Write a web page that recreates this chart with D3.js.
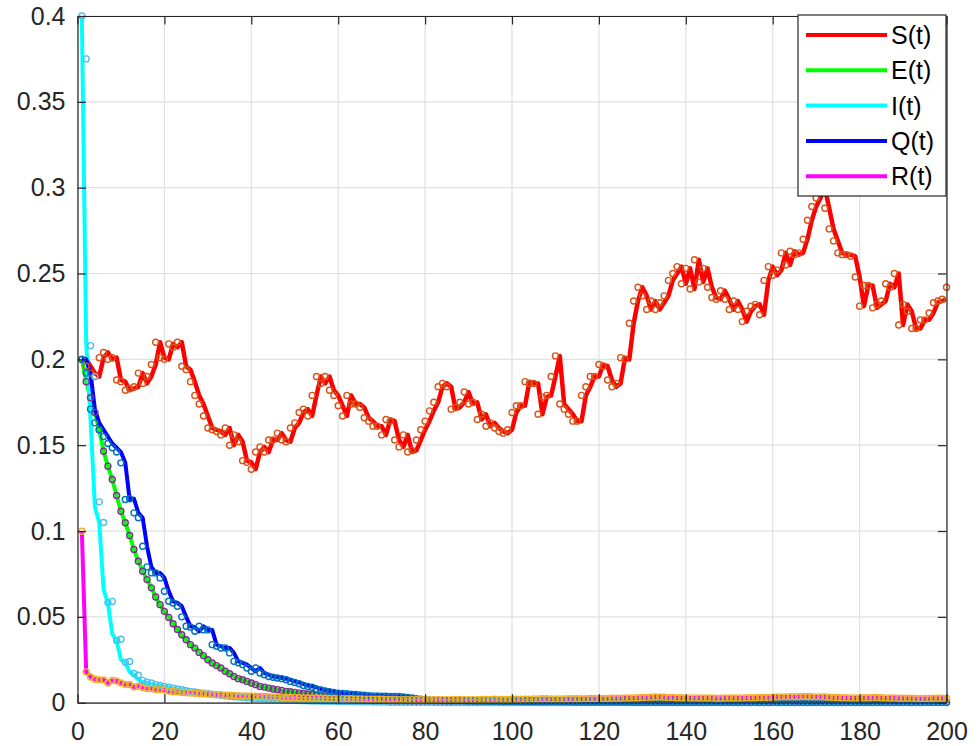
<!DOCTYPE html>
<html>
<head>
<meta charset="utf-8">
<script src="https://cdn.jsdelivr.net/npm/d3@7"></script>
<style>
  body { margin: 0; background: #fff; }
  svg { display: block; font-family: "Liberation Sans", Arial, Helvetica, sans-serif; }
</style>
</head>
<body>
<div id="chart"></div>
<script>
// ---- data (t = 1..200) ----
var xTicks = [0, 20, 40, 60, 80, 100, 120, 140, 160, 180, 200];
var yTicks = [0, 0.05, 0.1, 0.15, 0.2, 0.25, 0.3, 0.35, 0.4];
var yTickLabels = ["0", "0.05", "0.1", "0.15", "0.2", "0.25", "0.3", "0.35", "0.4"];
var seriesNames = ["S(t)", "E(t)", "I(t)", "Q(t)", "R(t)"];

var sLine = [
  0.200,0.200,0.196,0.192,0.190,0.201,0.204,0.200,0.201,0.188,
  0.187,0.182,0.183,0.184,0.192,0.186,0.190,0.197,0.210,0.201,
  0.200,0.209,0.207,0.210,0.196,0.194,0.187,0.179,0.174,0.167,
  0.160,0.159,0.158,0.156,0.160,0.150,0.156,0.152,0.141,0.140,
  0.136,0.146,0.149,0.146,0.153,0.153,0.157,0.153,0.152,0.160,
  0.163,0.169,0.171,0.167,0.179,0.190,0.186,0.190,0.182,0.179,
  0.173,0.167,0.179,0.174,0.174,0.172,0.166,0.164,0.161,0.161,
  0.156,0.165,0.164,0.153,0.149,0.156,0.146,0.147,0.153,0.159,
  0.164,0.170,0.175,0.184,0.186,0.184,0.171,0.172,0.175,0.181,
  0.174,0.175,0.165,0.168,0.161,0.163,0.160,0.158,0.157,0.159,
  0.169,0.173,0.173,0.187,0.186,0.186,0.168,0.178,0.179,0.190,
  0.202,0.174,0.171,0.168,0.164,0.164,0.179,0.184,0.190,0.190,
  0.197,0.196,0.188,0.184,0.186,0.201,0.200,0.221,0.234,0.242,
  0.237,0.229,0.234,0.229,0.233,0.237,0.246,0.250,0.254,0.244,
  0.253,0.241,0.258,0.245,0.253,0.242,0.236,0.235,0.240,0.235,
  0.229,0.234,0.229,0.222,0.228,0.231,0.232,0.226,0.246,0.254,
  0.249,0.252,0.262,0.255,0.263,0.261,0.262,0.270,0.281,0.289,
  0.294,0.300,0.288,0.276,0.269,0.262,0.261,0.261,0.260,0.248,
  0.231,0.243,0.243,0.230,0.232,0.234,0.244,0.242,0.250,0.220,
  0.232,0.228,0.218,0.218,0.223,0.223,0.227,0.233,0.234,0.235
];
var sMarks = [
  0.200,0.196,0.192,0.190,0.201,0.204,0.200,0.201,0.188,0.187,
  0.182,0.183,0.184,0.192,0.186,0.190,0.197,0.210,0.201,0.200,
  0.209,0.207,0.210,0.196,0.194,0.187,0.179,0.174,0.167,0.160,
  0.159,0.158,0.156,0.160,0.150,0.156,0.152,0.141,0.140,0.136,
  0.146,0.149,0.146,0.153,0.153,0.157,0.153,0.152,0.160,0.163,
  0.169,0.171,0.167,0.179,0.190,0.186,0.190,0.182,0.179,0.173,
  0.167,0.179,0.174,0.174,0.172,0.166,0.164,0.161,0.161,0.156,
  0.165,0.164,0.153,0.149,0.156,0.146,0.147,0.153,0.159,0.164,
  0.170,0.175,0.184,0.186,0.184,0.171,0.172,0.175,0.181,0.174,
  0.175,0.165,0.168,0.161,0.163,0.160,0.158,0.157,0.159,0.169,
  0.173,0.173,0.187,0.186,0.186,0.168,0.178,0.179,0.190,0.202,
  0.174,0.171,0.168,0.164,0.164,0.179,0.184,0.190,0.190,0.197,
  0.196,0.188,0.184,0.186,0.201,0.200,0.221,0.234,0.242,0.237,
  0.229,0.234,0.229,0.233,0.237,0.246,0.250,0.254,0.244,0.253,
  0.241,0.258,0.245,0.253,0.242,0.236,0.235,0.240,0.235,0.229,
  0.234,0.229,0.222,0.228,0.231,0.232,0.226,0.246,0.254,0.249,
  0.252,0.262,0.255,0.263,0.261,0.262,0.270,0.281,0.289,0.294,
  0.300,0.288,0.276,0.269,0.262,0.261,0.261,0.260,0.248,0.231,
  0.243,0.243,0.230,0.232,0.234,0.244,0.242,0.250,0.220,0.232,
  0.228,0.218,0.218,0.223,0.223,0.227,0.233,0.234,0.235,0.242
];
var eVals = [
  0.2000,0.1870,0.1776,0.1690,0.1590,0.1465,0.1378,0.1300,0.1207,0.1115,
  0.1048,0.0974,0.0892,0.0824,0.0766,0.0717,0.0669,0.0616,0.0571,0.0532,
  0.0497,0.0460,0.0426,0.0396,0.0367,0.0338,0.0318,0.0293,0.0274,0.0250,
  0.0231,0.0216,0.0202,0.0183,0.0169,0.0153,0.0140,0.0134,0.0124,0.0115,
  0.0105,0.0095,0.0091,0.0085,0.0080,0.0076,0.0072,0.0066,0.0064,0.0060,
  0.0057,0.0054,0.0051,0.0048,0.0045,0.0042,0.0039,0.0035,0.0031,0.0027,
  0.0024,0.0021,0.0018,0.0016,0.0015,0.0014,0.0013,0.0012,0.0011,0.0010,
  0.0010,0.0009,0.0009,0.0008,0.0008,0.0007,0.0007,0.0006,0.0006,0.0005,
  0.0005,0.0005,0.0004,0.0004,0.0004,0.0004,0.0003,0.0003,0.0003,0.0003,
  0.0003,0.0003,0.0003,0.0003,0.0002,0.0002,0.0002,0.0002,0.0002,0.0002,
  0.0002,0.0002,0.0002,0.0002,0.0002,0.0002,0.0002,0.0002,0.0002,0.0002,
  0.0002,0.0002,0.0002,0.0002,0.0002,0.0002,0.0002,0.0002,0.0002,0.0002,
  0.0002,0.0002,0.0002,0.0002,0.0002,0.0002,0.0002,0.0002,0.0002,0.0002,
  0.0002,0.0002,0.0002,0.0002,0.0002,0.0002,0.0002,0.0002,0.0002,0.0002,
  0.0002,0.0002,0.0002,0.0002,0.0002,0.0002,0.0002,0.0002,0.0002,0.0002,
  0.0002,0.0002,0.0002,0.0002,0.0002,0.0002,0.0002,0.0002,0.0002,0.0002,
  0.0002,0.0002,0.0002,0.0002,0.0002,0.0002,0.0002,0.0002,0.0002,0.0002,
  0.0002,0.0002,0.0002,0.0002,0.0002,0.0002,0.0002,0.0002,0.0002,0.0002,
  0.0002,0.0002,0.0002,0.0002,0.0002,0.0002,0.0002,0.0002,0.0002,0.0002,
  0.0002,0.0002,0.0002,0.0002,0.0002,0.0002,0.0002,0.0002,0.0002,0.0002
];
var iLine = [
  0.4000,0.2100,0.1650,0.1140,0.1050,0.0660,0.0580,0.0400,0.0360,0.0250,
  0.0235,0.0180,0.0160,0.0135,0.0120,0.0115,0.0108,0.0102,0.0097,0.0092,
  0.0087,0.0082,0.0077,0.0072,0.0068,0.0064,0.0060,0.0056,0.0053,0.0050,
  0.0047,0.0044,0.0041,0.0039,0.0036,0.0034,0.0032,0.0030,0.0028,0.0026,
  0.0024,0.0023,0.0021,0.0020,0.0019,0.0017,0.0016,0.0015,0.0014,0.0013,
  0.0012,0.0011,0.0010,0.0010,0.0009,0.0009,0.0008,0.0008,0.0007,0.0007,
  0.0006,0.0006,0.0006,0.0005,0.0005,0.0005,0.0004,0.0004,0.0004,0.0004,
  0.0003,0.0003,0.0003,0.0003,0.0003,0.0002,0.0002,0.0002,0.0002,0.0002,
  0.0002,0.0002,0.0001,0.0001,0.0001,0.0001,0.0001,0.0001,0.0001,0.0001,
  0.0001,0.0001,0.0001,0.0001,0.0001,0.0001,0.0001,0.0001,0.0001,0.0001,
  0.0001,0.0001,0.0001,0.0001,0.0001,0.0001,0.0001,0.0001,0.0001,0.0001,
  0.0001,0.0001,0.0001,0.0001,0.0001,0.0001,0.0001,0.0001,0.0001,0.0001,
  0.0001,0.0001,0.0001,0.0001,0.0001,0.0001,0.0001,0.0001,0.0001,0.0001,
  0.0001,0.0001,0.0001,0.0001,0.0001,0.0001,0.0001,0.0001,0.0001,0.0001,
  0.0001,0.0001,0.0001,0.0001,0.0001,0.0001,0.0001,0.0001,0.0001,0.0001,
  0.0001,0.0001,0.0001,0.0001,0.0001,0.0001,0.0001,0.0001,0.0001,0.0001,
  0.0001,0.0001,0.0001,0.0001,0.0001,0.0001,0.0001,0.0001,0.0001,0.0001,
  0.0001,0.0001,0.0001,0.0001,0.0001,0.0001,0.0001,0.0001,0.0001,0.0001,
  0.0001,0.0001,0.0001,0.0001,0.0001,0.0001,0.0001,0.0001,0.0001,0.0001,
  0.0001,0.0001,0.0001,0.0001,0.0001,0.0001,0.0001,0.0001,0.0001,0.0001
];
var iMarks = [
  0.4000,0.3750,0.2080,0.1900,0.1170,0.1050,0.0583,0.0590,0.0363,0.0370,
  0.0235,0.0240,0.0170,0.0160,0.0130,0.0120,0.0115,0.0105,0.0100,0.0095,
  0.0090,0.0085,0.0080,0.0075,0.0070,0.0066,0.0062,0.0058,0.0055,0.0052,
  0.0049,0.0046,0.0043,0.0040,0.0038,0.0035,0.0033,0.0031,0.0029,0.0027,
  0.0025,0.0024,0.0022,0.0021,0.0020,0.0018,0.0017,0.0016,0.0015,0.0014,
  0.0013,0.0012,0.0011,0.0010,0.0010,0.0009,0.0009,0.0008,0.0008,0.0007,
  0.0007,0.0006,0.0006,0.0006,0.0005,0.0005,0.0005,0.0004,0.0004,0.0004,
  0.0004,0.0003,0.0003,0.0003,0.0003,0.0003,0.0002,0.0002,0.0002,0.0002,
  0.0002,0.0002,0.0002,0.0001,0.0001,0.0001,0.0001,0.0001,0.0001,0.0001,
  0.0001,0.0001,0.0001,0.0001,0.0001,0.0001,0.0001,0.0001,0.0001,0.0001,
  0.0001,0.0001,0.0001,0.0001,0.0001,0.0001,0.0001,0.0001,0.0001,0.0001,
  0.0001,0.0001,0.0001,0.0001,0.0001,0.0001,0.0001,0.0001,0.0001,0.0001,
  0.0001,0.0001,0.0001,0.0001,0.0001,0.0001,0.0001,0.0001,0.0001,0.0001,
  0.0001,0.0001,0.0001,0.0001,0.0001,0.0001,0.0001,0.0001,0.0001,0.0001,
  0.0001,0.0001,0.0001,0.0001,0.0001,0.0001,0.0001,0.0001,0.0001,0.0001,
  0.0001,0.0001,0.0001,0.0001,0.0001,0.0001,0.0001,0.0001,0.0001,0.0001,
  0.0001,0.0001,0.0001,0.0001,0.0001,0.0001,0.0001,0.0001,0.0001,0.0001,
  0.0001,0.0001,0.0001,0.0001,0.0001,0.0001,0.0001,0.0001,0.0001,0.0001,
  0.0001,0.0001,0.0001,0.0001,0.0001,0.0001,0.0001,0.0001,0.0001,0.0001,
  0.0001,0.0001,0.0001,0.0001,0.0001,0.0001,0.0001,0.0001,0.0001,0.0001
];
var qLine = [
  0.2000,0.2000,0.1920,0.1710,0.1630,0.1590,0.1550,0.1510,0.1485,0.1460,
  0.1397,0.1184,0.1188,0.1106,0.1077,0.0911,0.0791,0.0756,0.0756,0.0727,
  0.0649,0.0591,0.0581,0.0562,0.0500,0.0445,0.0440,0.0416,0.0445,0.0424,
  0.0424,0.0338,0.0329,0.0319,0.0319,0.0290,0.0241,0.0233,0.0222,0.0202,
  0.0183,0.0202,0.0173,0.0163,0.0153,0.0148,0.0144,0.0140,0.0134,0.0124,
  0.0118,0.0110,0.0100,0.0095,0.0090,0.0078,0.0074,0.0068,0.0064,0.0060,
  0.0056,0.0054,0.0052,0.0050,0.0048,0.0045,0.0043,0.0041,0.0040,0.0039,
  0.0038,0.0038,0.0037,0.0037,0.0036,0.0033,0.0030,0.0027,0.0024,0.0020,
  0.0017,0.0016,0.0015,0.0014,0.0013,0.0013,0.0012,0.0012,0.0011,0.0011,
  0.0010,0.0010,0.0009,0.0009,0.0009,0.0008,0.0008,0.0008,0.0007,0.0007,
  0.0007,0.0007,0.0006,0.0006,0.0006,0.0006,0.0006,0.0005,0.0005,0.0005,
  0.0005,0.0005,0.0005,0.0005,0.0004,0.0004,0.0004,0.0004,0.0004,0.0004,
  0.0004,0.0004,0.0004,0.0004,0.0004,0.0004,0.0004,0.0004,0.0003,0.0003,
  0.0003,0.0003,0.0003,0.0003,0.0003,0.0003,0.0003,0.0003,0.0003,0.0003,
  0.0003,0.0003,0.0003,0.0003,0.0003,0.0003,0.0003,0.0003,0.0003,0.0003,
  0.0003,0.0003,0.0003,0.0002,0.0002,0.0002,0.0002,0.0002,0.0002,0.0002,
  0.0002,0.0002,0.0002,0.0002,0.0002,0.0002,0.0002,0.0002,0.0002,0.0002,
  0.0002,0.0002,0.0002,0.0002,0.0002,0.0002,0.0002,0.0002,0.0002,0.0002,
  0.0002,0.0002,0.0002,0.0002,0.0002,0.0002,0.0002,0.0002,0.0002,0.0002,
  0.0002,0.0002,0.0002,0.0002,0.0002,0.0002,0.0002,0.0002,0.0002,0.0002
];
var qMarks = [
  0.2000,0.1920,0.1710,0.1630,0.1590,0.1550,0.1510,0.1485,0.1460,0.1397,
  0.1184,0.1188,0.1106,0.1077,0.0911,0.0791,0.0756,0.0756,0.0727,0.0649,
  0.0591,0.0581,0.0562,0.0500,0.0445,0.0440,0.0416,0.0445,0.0424,0.0424,
  0.0338,0.0329,0.0319,0.0319,0.0290,0.0241,0.0233,0.0222,0.0202,0.0183,
  0.0202,0.0173,0.0163,0.0153,0.0148,0.0144,0.0140,0.0134,0.0124,0.0118,
  0.0110,0.0100,0.0095,0.0090,0.0078,0.0074,0.0068,0.0064,0.0060,0.0056,
  0.0054,0.0052,0.0050,0.0048,0.0045,0.0043,0.0041,0.0040,0.0039,0.0038,
  0.0038,0.0037,0.0037,0.0036,0.0033,0.0030,0.0027,0.0024,0.0020,0.0017,
  0.0016,0.0015,0.0014,0.0013,0.0013,0.0012,0.0012,0.0011,0.0011,0.0010,
  0.0010,0.0009,0.0009,0.0009,0.0008,0.0008,0.0008,0.0007,0.0007,0.0007,
  0.0007,0.0006,0.0006,0.0006,0.0006,0.0006,0.0005,0.0005,0.0005,0.0005,
  0.0005,0.0005,0.0005,0.0004,0.0004,0.0004,0.0004,0.0004,0.0004,0.0004,
  0.0004,0.0004,0.0004,0.0004,0.0004,0.0004,0.0004,0.0003,0.0003,0.0003,
  0.0003,0.0003,0.0003,0.0003,0.0003,0.0003,0.0003,0.0003,0.0003,0.0003,
  0.0003,0.0003,0.0003,0.0003,0.0003,0.0003,0.0003,0.0003,0.0003,0.0003,
  0.0003,0.0003,0.0002,0.0002,0.0002,0.0002,0.0002,0.0002,0.0002,0.0002,
  0.0002,0.0002,0.0002,0.0002,0.0002,0.0002,0.0002,0.0002,0.0002,0.0002,
  0.0002,0.0002,0.0002,0.0002,0.0002,0.0002,0.0002,0.0002,0.0002,0.0002,
  0.0002,0.0002,0.0002,0.0002,0.0002,0.0002,0.0002,0.0002,0.0002,0.0002,
  0.0002,0.0002,0.0002,0.0002,0.0002,0.0002,0.0002,0.0002,0.0002,0.0002
];
var rVals = [
  0.0999,0.0179,0.0150,0.0137,0.0133,0.0133,0.0115,0.0130,0.0127,0.0115,
  0.0106,0.0106,0.0092,0.0096,0.0088,0.0082,0.0082,0.0076,0.0076,0.0074,
  0.0068,0.0064,0.0063,0.0060,0.0058,0.0056,0.0055,0.0052,0.0052,0.0050,
  0.0048,0.0047,0.0046,0.0044,0.0043,0.0042,0.0041,0.0040,0.0040,0.0039,
  0.0038,0.0037,0.0036,0.0035,0.0034,0.0033,0.0032,0.0031,0.0030,0.0030,
  0.0029,0.0028,0.0027,0.0027,0.0027,0.0026,0.0026,0.0025,0.0025,0.0024,
  0.0024,0.0023,0.0023,0.0022,0.0022,0.0021,0.0021,0.0020,0.0020,0.0020,
  0.0019,0.0019,0.0019,0.0018,0.0018,0.0018,0.0018,0.0017,0.0017,0.0017,
  0.0017,0.0017,0.0017,0.0018,0.0018,0.0018,0.0019,0.0019,0.0018,0.0018,
  0.0018,0.0018,0.0019,0.0019,0.0019,0.0020,0.0019,0.0019,0.0019,0.0020,
  0.0020,0.0020,0.0021,0.0021,0.0022,0.0022,0.0023,0.0023,0.0022,0.0022,
  0.0022,0.0022,0.0023,0.0023,0.0023,0.0024,0.0024,0.0025,0.0025,0.0025,
  0.0025,0.0025,0.0026,0.0026,0.0026,0.0027,0.0027,0.0028,0.0029,0.0030,
  0.0031,0.0032,0.0033,0.0033,0.0032,0.0031,0.0030,0.0029,0.0029,0.0028,
  0.0028,0.0028,0.0027,0.0027,0.0027,0.0027,0.0026,0.0026,0.0027,0.0027,
  0.0027,0.0028,0.0028,0.0029,0.0029,0.0029,0.0030,0.0031,0.0031,0.0032,
  0.0033,0.0034,0.0034,0.0035,0.0035,0.0035,0.0036,0.0036,0.0035,0.0034,
  0.0034,0.0033,0.0032,0.0031,0.0030,0.0029,0.0029,0.0028,0.0028,0.0028,
  0.0029,0.0029,0.0030,0.0030,0.0029,0.0028,0.0027,0.0027,0.0026,0.0026,
  0.0026,0.0026,0.0025,0.0025,0.0025,0.0025,0.0026,0.0026,0.0026,0.0026
];

var tt = d3.range(1, 201);

// line / marker colours (MATLAB style)
var series = [
  {name: seriesNames[0], line: sLine, marks: sMarks, color: "#ff0000", mark: "#d95319", width: 4.5},
  {name: seriesNames[1], line: eVals, marks: eVals, color: "#00ff00", mark: "#7e2f8e", width: 4},
  {name: seriesNames[2], line: iLine, marks: iMarks, color: "#00ffff", mark: "#4dbeee", width: 4},
  {name: seriesNames[3], line: qLine, marks: qMarks, color: "#0000ff", mark: "#0072bd", width: 4},
  {name: seriesNames[4], line: rVals, marks: rVals, color: "#ff00ff", mark: "#edb120", width: 4}
];

var margin = {top: 16, right: 33.5, bottom: 43.3, left: 77.5},
    width = 980 - margin.left - margin.right,
    height = 746 - margin.top - margin.bottom;

var svg = d3.select("#chart")
  .append("svg")
    .attr("width", 980)
    .attr("height", 746)
  .append("g")
    .attr("transform", "translate(" + margin.left + "," + margin.top + ")");

var x = d3.scaleLinear().domain([0, 200]).range([0, width]);
var y = d3.scaleLinear().domain([0, 0.4]).range([height, 0]);

// grid
svg.append("g").selectAll("line.gx")
  .data(xTicks).enter().append("line")
    .attr("x1", function(d) { return x(d); }).attr("x2", function(d) { return x(d); })
    .attr("y1", 0).attr("y2", height)
    .attr("stroke", "#e0e0e0").attr("stroke-width", 1.2);
svg.append("g").selectAll("line.gy")
  .data(yTicks).enter().append("line")
    .attr("y1", function(d) { return y(d); }).attr("y2", function(d) { return y(d); })
    .attr("x1", 0).attr("x2", width)
    .attr("stroke", "#e0e0e0").attr("stroke-width", 1.2);

svg.append("clipPath").attr("id", "plotclip")
  .append("rect").attr("width", width).attr("height", height);

var line = d3.line()
  .x(function(d, i) { return x(tt[i]); })
  .y(function(d) { return y(d); });

// lines
series.forEach(function(s) {
  svg.append("path")
    .datum(s.line)
    .attr("clip-path", "url(#plotclip)")
    .attr("d", line)
    .attr("fill", "none")
    .attr("stroke", s.color)
    .attr("stroke-width", s.width)
    .attr("stroke-linejoin", "round");
});

// markers
series.forEach(function(s) {
  svg.append("g").selectAll("circle")
    .data(s.marks).enter().append("circle")
      .attr("cx", function(d, i) { return x(tt[i]); })
      .attr("cy", function(d) { return y(d); })
      .attr("r", 3)
      .attr("fill", "none")
      .attr("stroke", s.mark)
      .attr("stroke-width", 1.4);
});

// axes (ticks point inward, box on all sides)
var fontSize = 25, axisColor = "#262626";
var xAxis = svg.append("g").attr("transform", "translate(0," + height + ")")
  .call(d3.axisBottom(x).tickValues(xTicks).tickFormat(d3.format("d"))
    .tickSizeInner(-8.5).tickSizeOuter(0).tickPadding(20));
var yAxis = svg.append("g")
  .call(d3.axisLeft(y).tickValues(yTicks)
    .tickFormat(function(d, i) { return yTickLabels[i]; })
    .tickSizeInner(-8.5).tickSizeOuter(0).tickPadding(12));
var topAxis = svg.append("g")
  .call(d3.axisTop(x).tickValues(xTicks).tickFormat("").tickSizeInner(-8.5).tickSizeOuter(0));
var rightAxis = svg.append("g").attr("transform", "translate(" + width + ",0)")
  .call(d3.axisRight(y).tickValues(yTicks).tickFormat("").tickSizeInner(-8.5).tickSizeOuter(0));

[xAxis, yAxis, topAxis, rightAxis].forEach(function(a) {
  a.selectAll("path.domain").attr("stroke", axisColor).attr("stroke-width", 1.2);
  a.selectAll(".tick line").attr("stroke", axisColor).attr("stroke-width", 1.2);
  a.selectAll("text")
    .style("font-size", fontSize + "px")
    .style("font-family", "'Liberation Sans', Arial, sans-serif")
    .attr("fill", axisColor);
});

// legend
var legend = svg.append("g").attr("transform", "translate(" + (798 - margin.left) + "," + (15 - margin.top) + ")");
legend.append("rect")
  .attr("width", 148).attr("height", 181)
  .attr("fill", "#fff").attr("stroke", axisColor).attr("stroke-width", 1.2);
series.forEach(function(s, i) {
  var ly = 20 + i * 35.3;
  legend.append("line")
    .attr("x1", 8).attr("x2", 89).attr("y1", ly).attr("y2", ly)
    .attr("stroke", s.color).attr("stroke-width", 4);
  legend.append("text")
    .attr("x", 93).attr("y", ly)
    .attr("dy", "0.36em")
    .style("font-size", fontSize + "px")
    .attr("fill", "#000")
    .text(s.name);
});
</script>
</body>
</html>
